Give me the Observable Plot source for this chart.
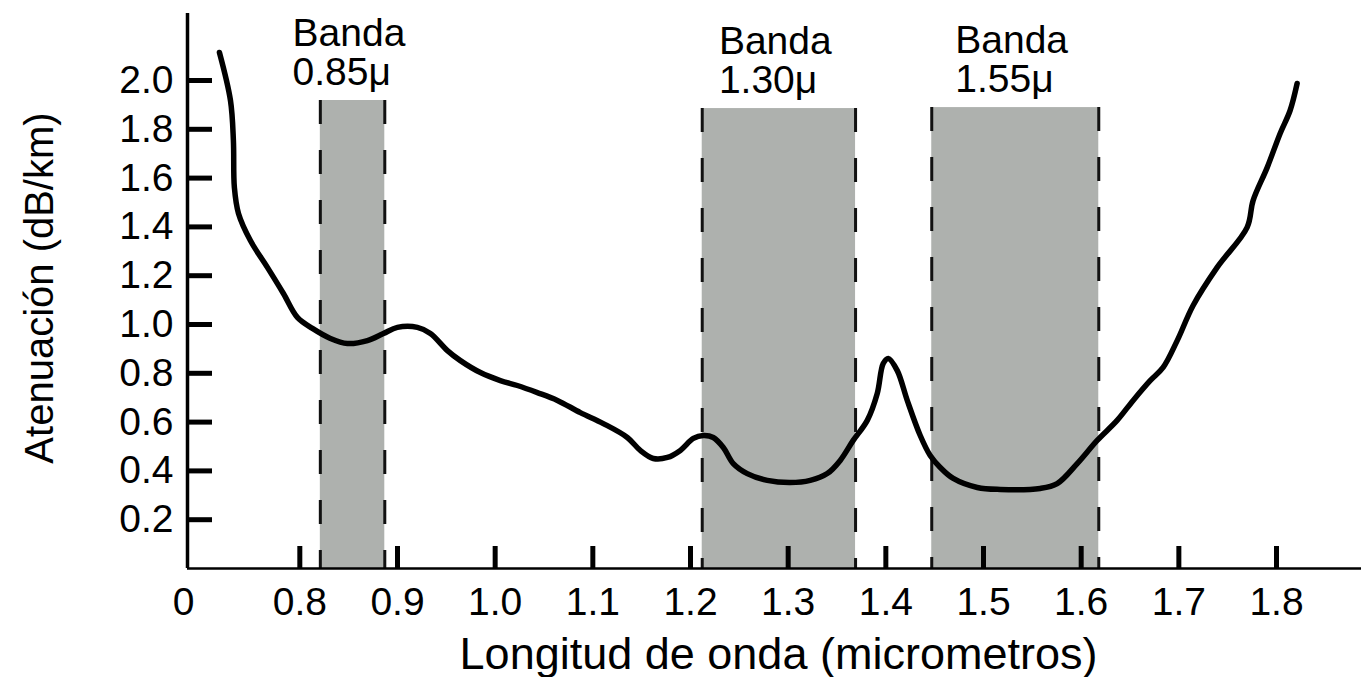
<!DOCTYPE html>
<html><head><meta charset="utf-8">
<script src="https://cdn.jsdelivr.net/npm/d3@7"></script>
<script src="https://cdn.jsdelivr.net/npm/@observablehq/plot@0.6"></script>
<style>
body{margin:0;background:#fff}
#chart svg{display:block}
</style>
</head><body><div id="chart"></div>
<script>
// ---- data ----
const wavelength = [0.7177,0.7290,0.7320,0.7330,0.7372,0.7494,0.7668,0.7832,0.7975,0.8129,0.8313,0.8487,0.8692,0.8856,0.8999,0.9204,0.9337,0.9511,0.9644,0.9849,1.0053,1.0227,1.0432,1.0637,1.0872,1.1107,1.1353,1.1486,1.1619,1.1763,1.1896,1.2029,1.2131,1.2233,1.2336,1.2438,1.2581,1.2786,1.3021,1.3226,1.3400,1.3533,1.3666,1.3810,1.3912,1.3973,1.4025,1.4117,1.4219,1.4352,1.4454,1.4557,1.4690,1.4936,1.5171,1.5580,1.5754,1.5959,1.6164,1.6368,1.6532,1.6706,1.6839,1.6983,1.7146,1.7392,1.7699,1.7760,1.7904,1.8037,1.8139,1.8211];
const attenuation = [2.115,1.918,1.754,1.561,1.455,1.344,1.234,1.127,1.029,0.984,0.943,0.922,0.934,0.963,0.988,0.988,0.963,0.893,0.852,0.803,0.770,0.750,0.721,0.689,0.639,0.594,0.537,0.484,0.451,0.455,0.484,0.533,0.545,0.537,0.496,0.430,0.389,0.361,0.352,0.361,0.389,0.443,0.525,0.607,0.717,0.840,0.861,0.811,0.689,0.545,0.463,0.414,0.369,0.332,0.324,0.328,0.348,0.430,0.525,0.607,0.689,0.770,0.824,0.934,1.078,1.234,1.398,1.508,1.643,1.783,1.877,1.988];

const bandStart = [0.821, 1.212, 1.447];
const bandEnd   = [0.887, 1.369, 1.618];
const bandTop   = [1.918, 1.885, 1.889];
const bandLabels = ["Banda\n0.85μ", "Banda\n1.30μ", "Banda\n1.55μ"];

const xTicks = [0.8, 0.9, 1.0, 1.1, 1.2, 1.3, 1.4, 1.5, 1.6, 1.7, 1.8];
const xTickLabels = ["0.8","0.9","1.0","1.1","1.2","1.3","1.4","1.5","1.6","1.7","1.8"];
const yTicks = [0.2, 0.4, 0.6, 0.8, 1.0, 1.2, 1.4, 1.6, 1.8, 2.0];
const yTickLabels = ["0.2","0.4","0.6","0.8","1.0","1.2","1.4","1.6","1.8","2.0"];
const originLabel = "0";
const xTitle = "Longitud de onda (micrometros)";
const yTitle = "Atenuación (dB/km)";
const xDomain = [0.685, 1.887];
const yDomain = [0, 2.2746];

// ---- build tables ----
const curve = wavelength.map((w, i) => ({w, a: attenuation[i]}));
const bands = bandStart.map((s, i) => ({s, e: bandEnd[i], top: bandTop[i], label: bandLabels[i]}));
const edges = bands.flatMap(b => [{x: b.s, top: b.top}, {x: b.e, top: b.top}]);
const xFmt = new Map(xTicks.map((t, i) => [t, xTickLabels[i]]));
const yFmt = new Map(yTicks.map((t, i) => [t, yTickLabels[i]]));

const FONT = "'Liberation Sans', Arial, Helvetica, sans-serif";

const chart = Plot.plot({
  width: 1361,
  height: 677,
  marginLeft: 187,
  marginRight: 0,
  marginTop: 13,
  marginBottom: 109,
  style: {fontFamily: FONT, fontSize: "39px", color: "#000", background: "#fff"},
  x: {domain: xDomain, axis: null},
  y: {domain: yDomain, axis: null},
  marks: [
    Plot.rect(bands, {x1: "s", x2: "e", y1: 0, y2: "top", fill: "#aeb1ae"}),
    Plot.ruleX(edges, {x: "x", y1: "top", y2: 0, stroke: "#111", strokeWidth: 3, strokeDasharray: "24,26"}),
    Plot.line(curve, {x: "w", y: "a", curve: "catmull-rom", stroke: "#000", strokeWidth: 5.5, strokeLinejoin: "round"}),
    // axis lines
    Plot.ruleX([xDomain[0]], {stroke: "#000", strokeWidth: 3.5}),
    Plot.ruleY([0], {stroke: "#000", strokeWidth: 2.5}),
    // inward tick marks
    Plot.axisX({ticks: xTicks, tickSize: -22, strokeWidth: 5, fill: "none", label: null}),
    Plot.axisY({ticks: yTicks, tickSize: -25, strokeWidth: 5, fill: "none", label: null}),
    // tick labels
    Plot.axisX({ticks: xTicks, tickSize: 0, tickPadding: 19, tickFormat: d => xFmt.get(d), fontSize: 39, label: null}),
    Plot.axisY({ticks: yTicks, tickSize: 0, tickPadding: 14, tickFormat: d => yFmt.get(d), fontSize: 39, label: null}),
    Plot.text([originLabel], {text: d => d, frameAnchor: "bottom-left", textAnchor: "middle", lineAnchor: "top", dy: 19, dx: -4, fontSize: 39}),
    // band labels
    Plot.text(bands, {x: d => (d.s + d.e) / 2, y: "top", text: "label", textAnchor: "start", lineAnchor: "bottom", lineHeight: 1.0, dx: -60, dy: -16, fontSize: 39, letterSpacing: "0.5px"}),
    // axis titles
    Plot.text([xTitle], {text: d => d, frameAnchor: "bottom", textAnchor: "middle", lineAnchor: "bottom", dy: 100, dx: 4, fontSize: 45}),
    Plot.text([yTitle], {text: d => d, frameAnchor: "left", textAnchor: "middle", rotate: -90, lineAnchor: "bottom", dx: -135, dy: -3, fontSize: 40})
  ]
});
document.getElementById("chart").appendChild(chart);
</script>
</body></html>
